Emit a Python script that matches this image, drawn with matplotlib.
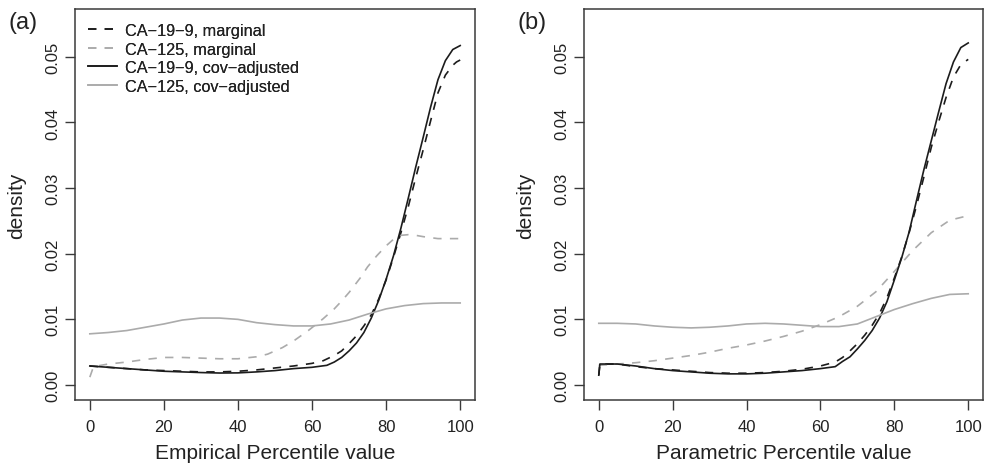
import matplotlib
matplotlib.use("Agg")
import matplotlib.pyplot as plt

plt.rcParams['font.family'] = ['Liberation Sans', 'DejaVu Sans']

# ---------------- data: panel (a) Empirical ----------------
a_ca199_adj_x = [0, 5, 10, 15, 20, 25, 30, 35, 40, 45, 50, 55, 60, 64, 66, 68, 70, 72, 74, 76, 78, 80, 82, 84, 86, 88, 90, 92, 94, 96, 98, 100]
a_ca199_adj_y = [0.0029, 0.0027, 0.0025, 0.0023, 0.0021, 0.0020, 0.0019, 0.00183, 0.00185, 0.0020, 0.0022, 0.0025, 0.0027, 0.0030,
                 0.0035, 0.0042, 0.0052, 0.0064, 0.0080, 0.0102, 0.0129, 0.0161, 0.0197, 0.0239, 0.0285, 0.0332, 0.0377, 0.0423,
                 0.0465, 0.0494, 0.0511, 0.0517]

a_ca199_marg_x = [0, 5, 10, 15, 20, 25, 30, 35, 40, 45, 50, 55, 60, 63, 66, 68, 70, 72, 74, 76, 78, 80, 82, 84, 86, 88, 90, 92, 94, 96, 98, 99, 100]
a_ca199_marg_y = [0.0029, 0.0027, 0.0025, 0.0023, 0.0022, 0.0021, 0.0020, 0.0020, 0.0021, 0.0023, 0.0026, 0.0029, 0.0033, 0.0037,
                  0.0045, 0.0052, 0.0063, 0.0075, 0.0090, 0.0107, 0.0131, 0.0160, 0.0195, 0.0232, 0.0272, 0.0316, 0.0358, 0.0402,
                  0.0445, 0.0472, 0.0487, 0.0492, 0.0495]

a_ca125_marg_x = [0, 1, 5, 10, 15, 20, 25, 30, 35, 40, 45, 48, 52, 55, 59, 63, 66, 68, 70, 73, 75, 77.5, 80, 82, 84, 86, 88, 90, 94, 100]
a_ca125_marg_y = [0.0012, 0.0028, 0.0032, 0.0035, 0.0039, 0.0042, 0.0042, 0.0041, 0.0040, 0.0040, 0.0043, 0.0047, 0.0057, 0.0067,
                  0.0083, 0.0101, 0.0116, 0.0128, 0.0141, 0.0163, 0.0180, 0.0197, 0.0212, 0.0222, 0.0228, 0.0229, 0.0228, 0.0226,
                  0.0223, 0.0223]

a_ca125_adj_x = [0, 5, 10, 15, 20, 25, 30, 35, 40, 45, 50, 55, 60, 65, 70, 75, 80, 85, 90, 95, 100]
a_ca125_adj_y = [0.0078, 0.0080, 0.0083, 0.0088, 0.0093, 0.0099, 0.0102, 0.0102, 0.0100, 0.0095, 0.0092, 0.0090, 0.0090, 0.0093,
                 0.0099, 0.0108, 0.0116, 0.0121, 0.0124, 0.0125, 0.0125]

# ---------------- data: panel (b) Parametric ----------------
b_ca199_adj_x = [0, 0.3, 5, 10, 15, 20, 25, 30, 35, 40, 45, 50, 55, 60, 64, 66, 68, 70, 72, 74, 76, 78, 80, 82, 84, 86, 88, 90, 92, 94, 96, 98, 100]
b_ca199_adj_y = [0.0015, 0.0032, 0.0032, 0.0029, 0.0025, 0.0022, 0.0020, 0.0018, 0.0017, 0.0017, 0.0018, 0.0020, 0.0022, 0.0025,
                 0.0028, 0.0036, 0.0043, 0.0055, 0.0068, 0.0083, 0.0102, 0.0127, 0.0160, 0.0194, 0.0233, 0.0281, 0.0328, 0.0372,
                 0.0416, 0.0459, 0.0492, 0.0514, 0.0521]

b_ca199_marg_x = [0, 0.3, 5, 10, 15, 20, 25, 30, 35, 40, 45, 50, 55, 60, 64, 66, 68, 70, 72, 74, 76, 78, 80, 82, 84, 86, 88, 90, 92, 94, 96, 98, 100]
b_ca199_marg_y = [0.0015, 0.0032, 0.0032, 0.0028, 0.0025, 0.0023, 0.0021, 0.0019, 0.0018, 0.0018, 0.0019, 0.0021, 0.0024, 0.0029,
                  0.0035, 0.0042, 0.0052, 0.0063, 0.0076, 0.0091, 0.0109, 0.0133, 0.0163, 0.0195, 0.0232, 0.0273, 0.0317, 0.0362,
                  0.0401, 0.0438, 0.0469, 0.0488, 0.0496]

b_ca125_marg_x = [0, 5, 10, 15, 20, 25, 30, 35, 40, 45, 50, 55, 60, 65, 70, 75, 80, 85, 90, 95, 100]
b_ca125_marg_y = [0.0030, 0.0032, 0.0034, 0.0037, 0.0041, 0.0045, 0.0050, 0.0056, 0.0061, 0.0067, 0.0074, 0.0082, 0.0092, 0.0104,
                  0.0120, 0.0142, 0.0173, 0.0205, 0.0232, 0.0251, 0.0258]

b_ca125_adj_x = [0, 5, 10, 15, 20, 25, 30, 35, 40, 45, 50, 55, 60, 65, 70, 75, 80, 85, 90, 95, 100]
b_ca125_adj_y = [0.0094, 0.0094, 0.0093, 0.0090, 0.0088, 0.0087, 0.0088, 0.0090, 0.0093, 0.0094, 0.0093, 0.0091, 0.0089, 0.0089,
                 0.0093, 0.0104, 0.0115, 0.0124, 0.0132, 0.0138, 0.0139]

labels = ["CA\u221219\u22129, marginal", "CA\u2212125, marginal",
          "CA\u221219\u22129, cov\u2212adjusted", "CA\u2212125, cov\u2212adjusted"]
panel_tags = ["(a)", "(b)"]
xlabels = ["Empirical Percentile value", "Parametric Percentile value"]
xticks = [0, 20, 40, 60, 80, 100]
yticks = [0.00, 0.01, 0.02, 0.03, 0.04, 0.05]
ytick_labels = ["0.00", "0.01", "0.02", "0.03", "0.04", "0.05"]

panels = [
    (a_ca199_marg_x, a_ca199_marg_y, a_ca125_marg_x, a_ca125_marg_y,
     a_ca199_adj_x, a_ca199_adj_y, a_ca125_adj_x, a_ca125_adj_y),
    (b_ca199_marg_x, b_ca199_marg_y, b_ca125_marg_x, b_ca125_marg_y,
     b_ca199_adj_x, b_ca199_adj_y, b_ca125_adj_x, b_ca125_adj_y),
]

W, H = 986, 464
fig = plt.figure(figsize=(W / 100, H / 100), dpi=100)

BLACK = "#1c1c1c"
GREY = "#ababab"
TXT = "#222222"
SPINE = "#3a3a3a"

boxes = [(75, 10, 475, 401), (584, 10, 983, 401)]
tag_pos = [(23, 23), (532, 23)]

for i, (box, data) in enumerate(zip(boxes, panels)):
    x0, y0, x1, y1 = box
    ax = fig.add_axes([x0 / W, (H - y1) / H, (x1 - x0) / W, (y1 - y0) / H])
    m199x, m199y, m125x, m125y, a199x, a199y, a125x, a125y = data
    lw = 1.2
    ax.plot(m199x, m199y, color=BLACK, lw=lw, dashes=(5, 5), label=labels[0])
    ax.plot(m125x, m125y, color=GREY, lw=lw, dashes=(5, 5), label=labels[1])
    ax.plot(a199x, a199y, color=BLACK, lw=lw, label=labels[2])
    ax.plot(a125x, a125y, color=GREY, lw=lw, label=labels[3])

    ax.set_xlim(-4, 104)
    ax.set_ylim(-0.00228, 0.05727)
    ax.set_xticks(xticks)
    ax.set_xticklabels([str(t) for t in xticks])
    ax.set_yticks(yticks)
    ax.set_yticklabels(ytick_labels, rotation=90, va="center")
    ax.tick_params(axis="both", direction="out", length=7, width=1.0, color=SPINE,
                   labelsize=12, labelcolor=TXT)
    ax.tick_params(axis="x", pad=7)
    ax.tick_params(axis="y", pad=3.5)
    for s in ax.spines.values():
        s.set_color(SPINE)
        s.set_linewidth(1.1)

    ax.legend(loc="upper left", bbox_to_anchor=((88 - x0) / (x1 - x0), (y1 - 24) / (y1 - y0)),
              frameon=False, fontsize=11.7, handlelength=1.8, handletextpad=0.45,
              borderpad=0, borderaxespad=0, labelspacing=0.22, labelcolor=TXT)

    cx = (x0 + x1) / 2
    fig.text(cx / W, 4.5 / H, xlabels[i], ha="center", va="baseline", fontsize=15, color=TXT)
    fig.text((x0 - 58) / W, (H - (y0 + y1) / 2) / H, "density", rotation=90,
             ha="center", va="center", fontsize=15, color=TXT)
    tx, ty = tag_pos[i]
    fig.text(tx / W, (H - ty) / H, panel_tags[i], ha="center", va="center", fontsize=17, color=TXT)

fig.savefig("out.png", dpi=100)
